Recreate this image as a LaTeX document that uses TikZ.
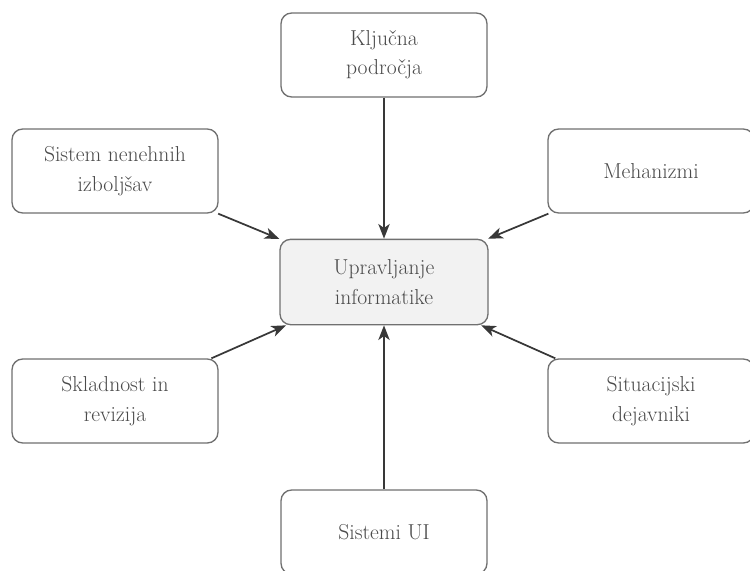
\documentclass[tikz,border=0pt]{standalone}
\usetikzlibrary{arrows.meta}
\definecolor{boxline}{HTML}{707070}
\definecolor{boxtext}{HTML}{4A4A4A}
\definecolor{arrline}{HTML}{383838}
\definecolor{corefill}{HTML}{F2F2F2}
\tikzset{
  factor/.style={draw=boxline, line width=1pt, rounded corners=8pt, fill=white,
    minimum width=154.5pt, minimum height=63pt, align=center, text=boxtext,
    font=\fontsize{16.2}{22}\selectfont},
  core/.style={factor, fill=corefill, minimum width=156pt, minimum height=64pt},
  feed/.style={draw=arrline, line width=1.3pt, -{Stealth[length=11pt,width=8.5pt,inset=3pt]}}
}
\begin{document}
\begin{tikzpicture}[x=0.75pt, y=-0.75pt]
\useasboundingbox (0,0) rectangle (750,571);
\clip (0,0) rectangle (750,571);

% Core
\node[core] (upr) at (384,282) {Upravljanje\\informatike};

% Factors
\node[factor] (kp)  at (384,55)  {Ključna\\področja};
\node[factor] (sni) at (115,171) {Sistem nenehnih\\izboljšav};
\node[factor] (meh) at (651,171) {Mehanizmi};
\node[factor] (sir) at (115,401) {Skladnost in\\revizija};
\node[factor] (sd)  at (651,401) {Situacijski\\dejavniki};
\node[factor] (sui) at (384,532) {Sistemi UI};

% Arrows
\draw[feed] (kp)  -- (upr);
\draw[feed] (sni) -- (upr);
\draw[feed] (meh) -- (upr);
\draw[feed] (sir) -- (upr);
\draw[feed] (sd)  -- (upr);
\draw[feed] (sui) -- (upr);
\end{tikzpicture}
\end{document}
